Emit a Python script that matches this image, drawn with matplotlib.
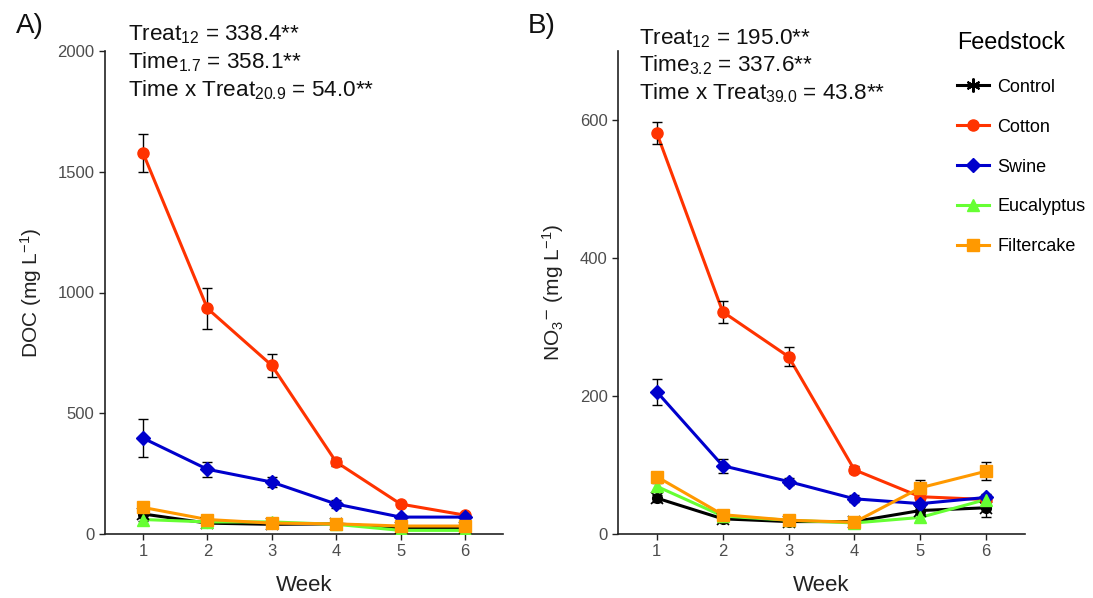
import matplotlib
matplotlib.use("Agg")
import matplotlib.pyplot as plt
from matplotlib.lines import Line2D

plt.rcParams['font.family'] = ['Liberation Sans', 'DejaVu Sans']
plt.rcParams['mathtext.fontset'] = 'custom'
plt.rcParams['mathtext.rm'] = 'Liberation Sans'
plt.rcParams['mathtext.it'] = 'Liberation Sans'

weeks = [1, 2, 3, 4, 5, 6]
feedstocks = ["Control", "Cotton", "Swine", "Eucalyptus", "Filtercake"]
colors = {"Control": "#000000", "Cotton": "#FF3300", "Swine": "#0000CC",
          "Eucalyptus": "#66FF33", "Filtercake": "#FF9900"}
markers = {"Control": "o", "Cotton": "o", "Swine": "D", "Eucalyptus": "^", "Filtercake": "s"}

# Dissolved organic carbon (mg L-1)
doc_mean = {
    "Control":    [83, 45, 40, 42, 25, 25],
    "Cotton":     [1578, 934, 698, 298, 124, 78],
    "Swine":      [397, 268, 215, 124, 70, 70],
    "Eucalyptus": [60, 50, 50, 40, 15, 15],
    "Filtercake": [110, 60, 45, 42, 33, 33],
}
doc_se = {
    "Control":    [10, 8, 8, 8, 5, 5],
    "Cotton":     [80, 85, 48, 15, 10, 8],
    "Swine":      [80, 30, 20, 15, 8, 8],
    "Eucalyptus": [8, 5, 5, 5, 3, 3],
    "Filtercake": [10, 8, 5, 5, 5, 5],
}

# Nitrate (mg L-1)
no3_mean = {
    "Control":    [52, 22, 18, 18, 34, 38],
    "Cotton":     [581, 322, 257, 93, 54, 50],
    "Swine":      [206, 99, 76, 51, 44, 53],
    "Eucalyptus": [69, 26, 20, 16, 24, 50],
    "Filtercake": [83, 28, 20, 17, 67, 91],
}
no3_se = {
    "Control":    [5, 3, 3, 3, 5, 13],
    "Cotton":     [16, 16, 14, 5, 5, 5],
    "Swine":      [19, 10, 5, 5, 5, 5],
    "Eucalyptus": [5, 3, 3, 3, 5, 5],
    "Filtercake": [5, 3, 3, 3, 11, 13],
}

doc_stats = [r"Treat$_{12}$ = 338.4**",
             r"Time$_{1.7}$ = 358.1**",
             r"Time x Treat$_{20.9}$ = 54.0**"]
no3_stats = [r"Treat$_{12}$ = 195.0**",
             r"Time$_{3.2}$ = 337.6**",
             r"Time x Treat$_{39.0}$ = 43.8**"]

W, H = 1093, 598
fig = plt.figure(figsize=(W / 100, H / 100), dpi=100)


def px_axes(left, right, top, bottom):
    return fig.add_axes([left / W, 1 - bottom / H, (right - left) / W, (bottom - top) / H])


axA = px_axes(105, 503, 51, 534)
axB = px_axes(618, 1025, 51, 534)

tick_col = "#4D4D4D"


def draw(ax, means, ses, ymax, yticks):
    for i, f in enumerate(feedstocks):
        ax.plot(weeks, means[f], color=colors[f], lw=2.2, zorder=2 + i * 0.1,
                solid_capstyle="butt")
    for i, f in enumerate(feedstocks):
        ax.errorbar(weeks, means[f], yerr=ses[f], fmt="none", ecolor="black",
                    elinewidth=1.0, capsize=3.5, capthick=1.0, zorder=3)
    for i, f in enumerate(feedstocks):
        if f == "Control":
            ax.plot(weeks, means[f], ls="none", marker="o", ms=7,
                    color="black", zorder=4 + i * 0.1)
            ax.plot(weeks, means[f], ls="none", marker="x", ms=8, mew=1.2,
                    color="black", zorder=4 + i * 0.1)
        else:
            ax.plot(weeks, means[f], ls="none", marker=markers[f],
                    ms=8 if markers[f] != "D" else 7, color=colors[f],
                    mec=colors[f], zorder=4 + i * 0.1)
    ax.set_xlim(0.41, 6.59)
    ax.set_ylim(0, ymax)
    ax.set_xticks(weeks)
    ax.set_yticks(yticks)
    for s in ["top", "right"]:
        ax.spines[s].set_visible(False)
    for s in ["left", "bottom"]:
        ax.spines[s].set_linewidth(1.2)
        ax.spines[s].set_color("#222222")
    ax.tick_params(axis="both", labelsize=12, labelcolor=tick_col,
                   color="#222222", length=4, width=1.0)
    ax.set_xlabel("Week", fontsize=16, color="#222222", labelpad=11)


draw(axA, doc_mean, doc_se, 2000, [0, 500, 1000, 1500, 2000])
axA.set_ylabel(r"DOC (mg L$^{-1}$)", fontsize=15, color="#222222", labelpad=10)

draw(axB, no3_mean, no3_se, 700, [0, 200, 400, 600])
axB.set_ylabel(r"NO$_3$$^{\mathsf{-}}$ (mg L$^{-1}$)", fontsize=15, color="#222222",
               labelpad=10)

for j, t in enumerate(doc_stats):
    fig.text(128 / W, 1 - (40 + 28 * j) / H, t, fontsize=16.2,
             color="#111111", va="baseline", ha="left")
for j, t in enumerate(no3_stats):
    fig.text(639 / W, 1 - (44 + 27.5 * j) / H, t, fontsize=16.2,
             color="#111111", va="baseline", ha="left")

fig.text(16 / W, 1 - 33 / H, "A)", fontsize=20, color="#111111", va="baseline")
fig.text(528 / W, 1 - 33 / H, "B)", fontsize=20, color="#111111", va="baseline")

handles = []
for f in feedstocks:
    if f == "Control":
        h = Line2D([], [], color="black", lw=2.2, marker=(6, 2, 0), ms=10, mew=1.5)
    else:
        h = Line2D([], [], color=colors[f], lw=2.2, marker=markers[f],
                   ms=8 if markers[f] != "D" else 7)
    handles.append(h)
leg = fig.legend(handles, feedstocks, title="Feedstock", loc="upper left",
                 bbox_to_anchor=(944 / W, 1 - 18 / H), frameon=False,
                 fontsize=13, title_fontsize=16.8, handlelength=1.8,
                 labelspacing=1.27, handletextpad=0.45, borderpad=0.2)
leg._legend_box.align = "left"
leg._legend_box.sep = 18

fig.savefig("out.png", dpi=100)
